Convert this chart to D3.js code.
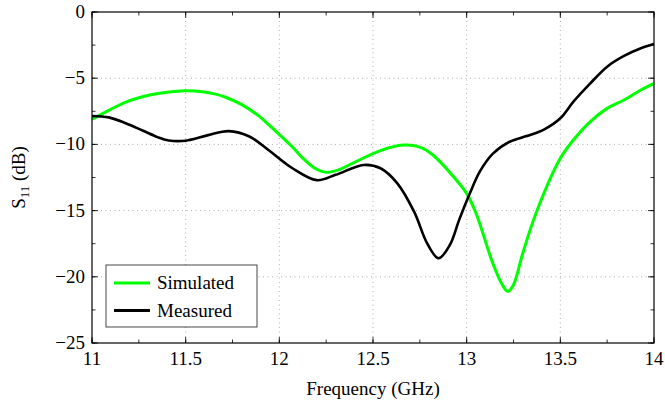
<!DOCTYPE html>
<html>
<head>
<meta charset="utf-8">
<script src="https://cdn.jsdelivr.net/npm/d3@7"></script>
<style>
  body { margin: 0; background: #fff; }
  svg text { font-family: Liberation Serif, DejaVu Serif, serif; }
</style>
</head>
<body>
<svg id="chart" width="665" height="407"></svg>
<script>
// frequency (GHz) / S11 (dB)
const simFreq = [11.0, 11.1, 11.18, 11.27, 11.36, 11.5, 11.6, 11.66, 11.71, 11.8, 11.89, 11.95, 12.07, 12.13, 12.19, 12.25,
  12.32, 12.39, 12.54, 12.66, 12.75, 12.82, 12.93, 13.0, 13.05, 13.14, 13.19, 13.22, 13.25, 13.3, 13.37, 13.5,
  13.57, 13.66, 13.75, 13.84, 13.93, 14.0];
const simS11 = [-8.1, -7.35, -6.8, -6.4, -6.14, -5.94, -6.04, -6.2, -6.42, -7.0, -7.85, -8.6, -10.2, -11.1, -11.8, -12.1,
  -11.9, -11.43, -10.47, -10.05, -10.2, -10.8, -12.44, -13.7, -15.2, -19.0, -20.6, -21.1, -20.6, -18.2, -15.2, -11.05,
  -9.67, -8.28, -7.28, -6.65, -5.89, -5.39];

const measFreq = [11.0, 11.09, 11.18, 11.27, 11.35, 11.41, 11.5, 11.62, 11.73, 11.84, 11.94, 12.07, 12.2, 12.3,
  12.45, 12.54, 12.63, 12.72, 12.79, 12.85, 12.91, 12.96, 13.02, 13.07, 13.14, 13.23, 13.32, 13.41, 13.5,
  13.57, 13.66, 13.75, 13.84, 13.93, 14.0];
const measS11 = [-7.85, -7.96, -8.4, -8.95, -9.45, -9.7, -9.72, -9.3, -9.0, -9.4, -10.4, -11.8, -12.7, -12.3,
  -11.55, -11.8, -12.94, -15.1, -17.5, -18.6, -17.6, -15.7, -13.6, -12.06, -10.7, -9.8, -9.37, -8.9, -8.03,
  -6.77, -5.39, -4.13, -3.32, -2.74, -2.42];

const xTicks = [11, 11.5, 12, 12.5, 13, 13.5, 14];
const yTicks = [0, -5, -10, -15, -20, -25];
const legendNames = ['Simulated', 'Measured'];
const lineColors = ['#00ff00', '#000000'];

const svg = d3.select('#chart');
const pLeft = 92, pRight = 654, pTop = 12, pBottom = 343;

const x = d3.scaleLinear().domain([11, 14]).range([pLeft, pRight]);
const y = d3.scaleLinear().domain([-25, 0]).range([pBottom, pTop]);

const xMinor = d3.range(11, 14.001, 0.25);
const yMinor = d3.range(-25, 0.001, 2.5);

// grid
const grid = svg.append('g').attr('stroke', '#9a9a9a').attr('stroke-width', 0.8)
  .attr('stroke-dasharray', '1,3.5');
grid.selectAll('.gx').data(xTicks.slice(1, -1)).enter().append('line')
  .attr('x1', d => x(d)).attr('x2', d => x(d)).attr('y1', pTop).attr('y2', pBottom);
grid.selectAll('.gy').data(yTicks.slice(1, -1)).enter().append('line')
  .attr('y1', d => y(d)).attr('y2', d => y(d)).attr('x1', pLeft).attr('x2', pRight);

// ticks, inward on all four sides
const ticks = svg.append('g').attr('stroke', '#000').attr('stroke-width', 0.8);
function tickSet(vals, len) {
  vals.forEach(function (v) {
    ticks.append('line').attr('x1', x(v)).attr('x2', x(v)).attr('y1', pBottom).attr('y2', pBottom - len);
    ticks.append('line').attr('x1', x(v)).attr('x2', x(v)).attr('y1', pTop).attr('y2', pTop + len);
  });
}
function tickSetY(vals, len) {
  vals.forEach(function (v) {
    ticks.append('line').attr('y1', y(v)).attr('y2', y(v)).attr('x1', pLeft).attr('x2', pLeft + len);
    ticks.append('line').attr('y1', y(v)).attr('y2', y(v)).attr('x1', pRight).attr('x2', pRight - len);
  });
}
tickSet(xMinor, 3.5);
tickSet(xTicks, 6);
tickSetY(yMinor, 3.5);
tickSetY(yTicks, 6);

// curves
const line = d3.line().x(d => x(d[0])).y(d => y(d[1])).curve(d3.curveCatmullRom.alpha(0.5));
const simPts = simFreq.map((f, i) => [f, simS11[i]]);
const measPts = measFreq.map((f, i) => [f, measS11[i]]);

svg.append('path').datum(simPts).attr('d', line)
  .attr('fill', 'none').attr('stroke', lineColors[0]).attr('stroke-width', 3);
svg.append('path').datum(measPts).attr('d', line)
  .attr('fill', 'none').attr('stroke', lineColors[1]).attr('stroke-width', 2.6);

// frame
svg.append('rect').attr('x', pLeft).attr('y', pTop).attr('width', pRight - pLeft).attr('height', pBottom - pTop)
  .attr('fill', 'none').attr('stroke', '#000').attr('stroke-width', 1.2);

// tick labels
svg.selectAll('.xl').data(xTicks).enter().append('text')
  .attr('x', d => x(d)).attr('y', pBottom + 22).attr('text-anchor', 'middle')
  .attr('font-size', 19).text(d => d3.format('')(d));
svg.selectAll('.yl').data(yTicks).enter().append('text')
  .attr('x', pLeft - 7).attr('y', d => y(d) + 6).attr('text-anchor', 'end')
  .attr('font-size', 19).text(d => d === 0 ? '0' : '\u2212' + Math.abs(d));

// axis titles
svg.append('text').attr('x', (pLeft + pRight) / 2).attr('y', 395).attr('text-anchor', 'middle')
  .attr('font-size', 19).text('Frequency (GHz)');
const yt = svg.append('text').attr('transform', 'translate(25,' + ((pTop + pBottom) / 2) + ') rotate(-90)')
  .attr('text-anchor', 'middle').attr('font-size', 19);
yt.append('tspan').text('S');
yt.append('tspan').attr('font-size', 13).attr('dy', 4).text('11');
yt.append('tspan').attr('dy', -4).text(' (dB)');

// legend
const lg = svg.append('g');
lg.append('rect').attr('x', 106).attr('y', 265).attr('width', 151).attr('height', 62)
  .attr('fill', '#fff').attr('stroke', '#333').attr('stroke-width', 0.9);
legendNames.forEach(function (name, i) {
  const ly = 283 + i * 27.5;
  lg.append('line').attr('x1', 114).attr('x2', 150).attr('y1', ly).attr('y2', ly)
    .attr('stroke', lineColors[i]).attr('stroke-width', 3);
  lg.append('text').attr('x', 157).attr('y', ly + 6).attr('font-size', 19).text(name);
});
</script>
</body>
</html>
